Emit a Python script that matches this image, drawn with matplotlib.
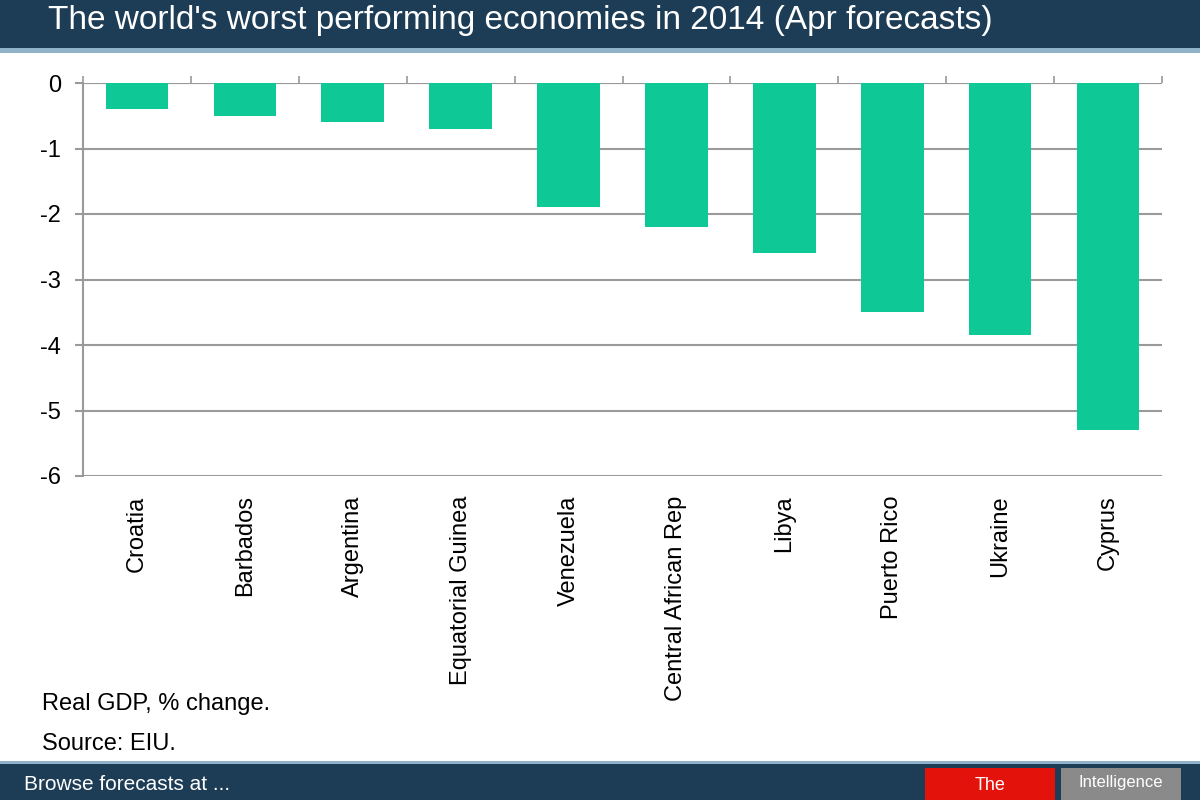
import numpy as np
import matplotlib
matplotlib.use('Agg')
import matplotlib.pyplot as plt
from matplotlib.patches import Rectangle

plt.rcParams['font.family'] = ['Liberation Sans', 'DejaVu Sans']

# ── Данные ───────────────────────────────────────────────────────
countries = ["Croatia", "Barbados", "Argentina", "Equatorial Guinea",
             "Venezuela", "Central African Rep", "Libya", "Puerto Rico",
             "Ukraine", "Cyprus"]
gdp_change = [-0.4, -0.5, -0.6, -0.7, -1.9, -2.2, -2.6, -3.5, -3.85, -5.3]
y_ticks = [0, -1, -2, -3, -4, -5, -6]

BAR = "#0ec995"
GRID = "#9a9a9a"
BAND = "#1d3d56"

fig = plt.figure(figsize=(12, 8), dpi=100, facecolor='white')

# ── Шапка и подвал ──────────────────────────────────────────────
fig.patches.append(Rectangle((0, 0.94), 1, 0.06, transform=fig.transFigure,
                             facecolor=BAND, edgecolor='none', zorder=0))
fig.patches.append(Rectangle((0, 0.934), 1, 0.006, transform=fig.transFigure,
                             facecolor='#8fb3c9', edgecolor='none', zorder=0))
fig.patches.append(Rectangle((0, 0), 1, 0.045, transform=fig.transFigure,
                             facecolor=BAND, edgecolor='none', zorder=0))
fig.patches.append(Rectangle((0, 0.045), 1, 0.004, transform=fig.transFigure,
                             facecolor='#8fb3c9', edgecolor='none', zorder=0))
fig.patches.append(Rectangle((0.771, 0), 0.108, 0.04, transform=fig.transFigure,
                             facecolor='#e3120b', edgecolor='none', zorder=1))
fig.patches.append(Rectangle((0.884, 0), 0.1, 0.04, transform=fig.transFigure,
                             facecolor='#8a8a8a', edgecolor='none', zorder=1))

fig.text(0.04, 0.975, "The world's worst performing economies in 2014 (Apr forecasts)",
         fontsize=24, color='white', ha='left', va='center')
fig.text(0.02, 0.02, "Browse forecasts at ...", fontsize=15, color='white',
         ha='left', va='center')
fig.text(0.825, 0.018, "The", fontsize=13, color='white', ha='center', va='center')
fig.text(0.934, 0.022, "Intelligence", fontsize=12, color='white',
         ha='center', va='center')

# ── График ──────────────────────────────────────────────────────
ax = fig.add_axes([83 / 1200, 324 / 800, 1079 / 1200, 393 / 800])
x = np.arange(len(countries))
ax.bar(x, gdp_change, width=0.58, color=BAR, zorder=3)

ax.set_ylim(-6, 0)
ax.set_xlim(-0.5, len(countries) - 0.5)
ax.set_yticks(y_ticks)
ax.set_yticklabels([str(v) for v in y_ticks], fontsize=17)
ax.yaxis.grid(True, color=GRID, linewidth=1.5, zorder=0)
ax.tick_params(axis='y', length=6, color=GRID, width=1.5, pad=10)

ax.set_xticks(x)
ax.set_xticklabels(countries, rotation=90, fontsize=17, va='top')
ax.tick_params(axis='x', length=0, pad=14)
# мелкие засечки между категориями на линии нуля, вверх
ax.set_xticks(np.arange(len(countries) + 1) - 0.5, minor=True)
ax.tick_params(axis='x', which='minor', bottom=False, top=True,
               direction='out', length=5, color=GRID, width=1.2)

for s in ['top', 'right', 'bottom']:
    ax.spines[s].set_visible(False)
ax.spines['left'].set_color(GRID)
ax.spines['left'].set_linewidth(1.5)
ax.axhline(0, color=GRID, linewidth=1.5, zorder=2)

fig.text(0.035, 0.12, "Real GDP, % change.", fontsize=17, ha='left', va='center')
fig.text(0.035, 0.07, "Source: EIU.", fontsize=17, ha='left', va='center')

fig.savefig('out.png', dpi=100, facecolor='white')
